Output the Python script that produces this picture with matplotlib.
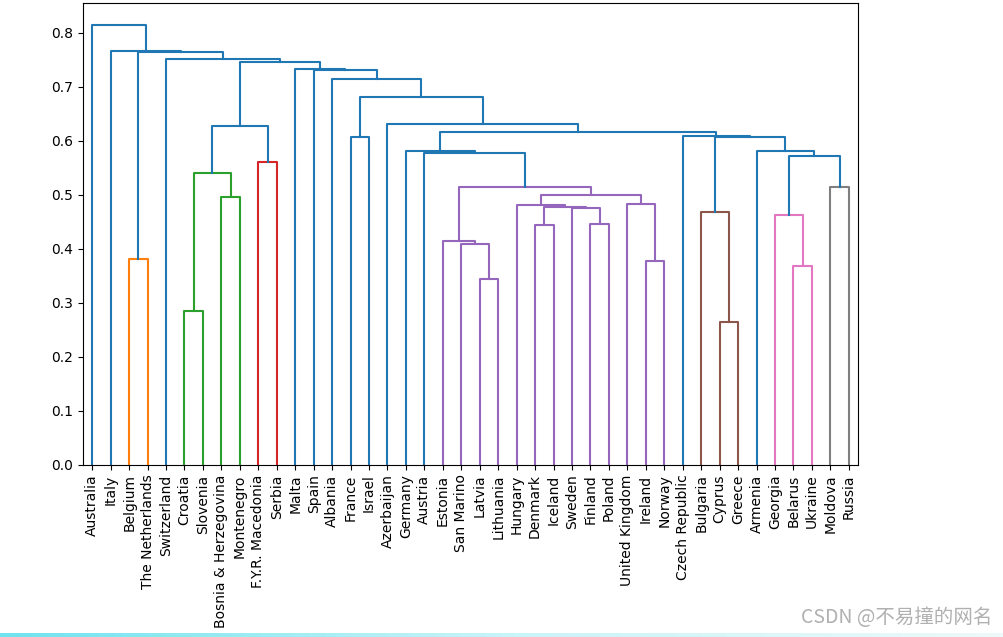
import numpy as np
import matplotlib.pyplot as plt
from matplotlib.colors import LinearSegmentedColormap

# leaf labels in dendrogram order
labels = ['Australia', 'Italy', 'Belgium', 'The Netherlands', 'Switzerland',
          'Croatia', 'Slovenia', 'Bosnia & Herzegovina', 'Montenegro',
          'F.Y.R. Macedonia', 'Serbia', 'Malta', 'Spain', 'Albania', 'France',
          'Israel', 'Azerbaijan', 'Germany', 'Austria', 'Estonia', 'San Marino',
          'Latvia', 'Lithuania', 'Hungary', 'Denmark', 'Iceland', 'Sweden',
          'Finland', 'Poland', 'United Kingdom', 'Ireland', 'Norway',
          'Czech Republic', 'Bulgaria', 'Cyprus', 'Greece', 'Armenia',
          'Georgia', 'Belarus', 'Ukraine', 'Moldova', 'Russia']

# merges: (left id, right id); new cluster ids start at len(labels)
merge_left = [5, 34, 21, 38, 30, 2, 20, 19, 24, 27, 37, 33, 26, 50, 23, 29,
              7, 56, 40, 49, 42, 9, 52, 18, 17, 36, 53, 14, 32, 66, 62, 16,
              69, 13, 12, 11, 72, 4, 47, 1, 0]
merge_right = [6, 35, 22, 39, 31, 3, 44, 48, 25, 28, 45, 43, 51, 54, 55, 46,
               8, 57, 41, 59, 58, 10, 60, 61, 65, 64, 67, 15, 68, 70, 63, 71,
               73, 74, 75, 76, 77, 78, 79, 80, 81]
merge_height = [0.285, 0.265, 0.344, 0.368, 0.378, 0.381, 0.409, 0.415, 0.444,
                0.446, 0.463, 0.467, 0.476, 0.477, 0.480, 0.483, 0.496, 0.500,
                0.514, 0.515, 0.540, 0.561, 0.572, 0.577, 0.580, 0.581, 0.607,
                0.607, 0.609, 0.615, 0.627, 0.630, 0.681, 0.714, 0.730, 0.733,
                0.746, 0.751, 0.764, 0.766, 0.814]

n = len(labels)
threshold = 0.7 * max(merge_height)

xpos = {i: 5 + 10 * i for i in range(n)}
ypos = {i: 0.0 for i in range(n)}
for k, (a, b, h) in enumerate(zip(merge_left, merge_right, merge_height)):
    xpos[n + k] = (xpos[a] + xpos[b]) / 2
    ypos[n + k] = h

# colour clusters below threshold, left to right
parent = {}
for k, (a, b) in enumerate(zip(merge_left, merge_right)):
    parent[a] = n + k
    parent[b] = n + k
roots = [n + k for k, h in enumerate(merge_height)
         if h < threshold and merge_height[parent[n + k] - n] >= threshold]
roots.sort(key=lambda c: xpos[c])
root_color = {c: 'C%d' % (i + 1) for i, c in enumerate(roots)}


def merge_color(c):
    while c in parent:
        if c in root_color:
            return root_color[c]
        c = parent[c]
    return root_color.get(c, 'C0')


fig = plt.figure(figsize=(10.04, 6.37), dpi=100)
ax = fig.add_axes([83 / 1004, 1 - 464.7 / 637, 775 / 1004, 461.7 / 637])

for k, (a, b, h) in enumerate(zip(merge_left, merge_right, merge_height)):
    c = n + k
    col = merge_color(c) if h < threshold else 'C0'
    ax.plot([xpos[a], xpos[a], xpos[b], xpos[b]],
            [ypos[a], h, h, ypos[b]], color=col, lw=1.5)

ax.set_xlim(0, 10 * n)
ax.set_ylim(0, max(merge_height) * 1.05)
ax.set_xticks([xpos[i] for i in range(n)])
ax.set_xticklabels(labels, rotation=90, fontsize=10)
ax.set_yticks(np.arange(0, 0.81, 0.1))

# watermark
fig.text(0.893, 0.03, 'CSDN @不易撞的网名', ha='center', va='center',
         fontsize=14, color='#b0b0b0',
         family=['Noto Sans CJK SC', 'DejaVu Sans'])

# light bar at the bottom edge
bar = fig.add_axes([0, 0, 1, 4 / 637])
cmap = LinearSegmentedColormap.from_list('bar', ['#6fe3ef', '#c8f4f8', '#eef9fa'])
bar.imshow(np.linspace(0, 1, 256)[None, :], aspect='auto', cmap=cmap)
bar.axis('off')

fig.savefig('out.png', dpi=100)
